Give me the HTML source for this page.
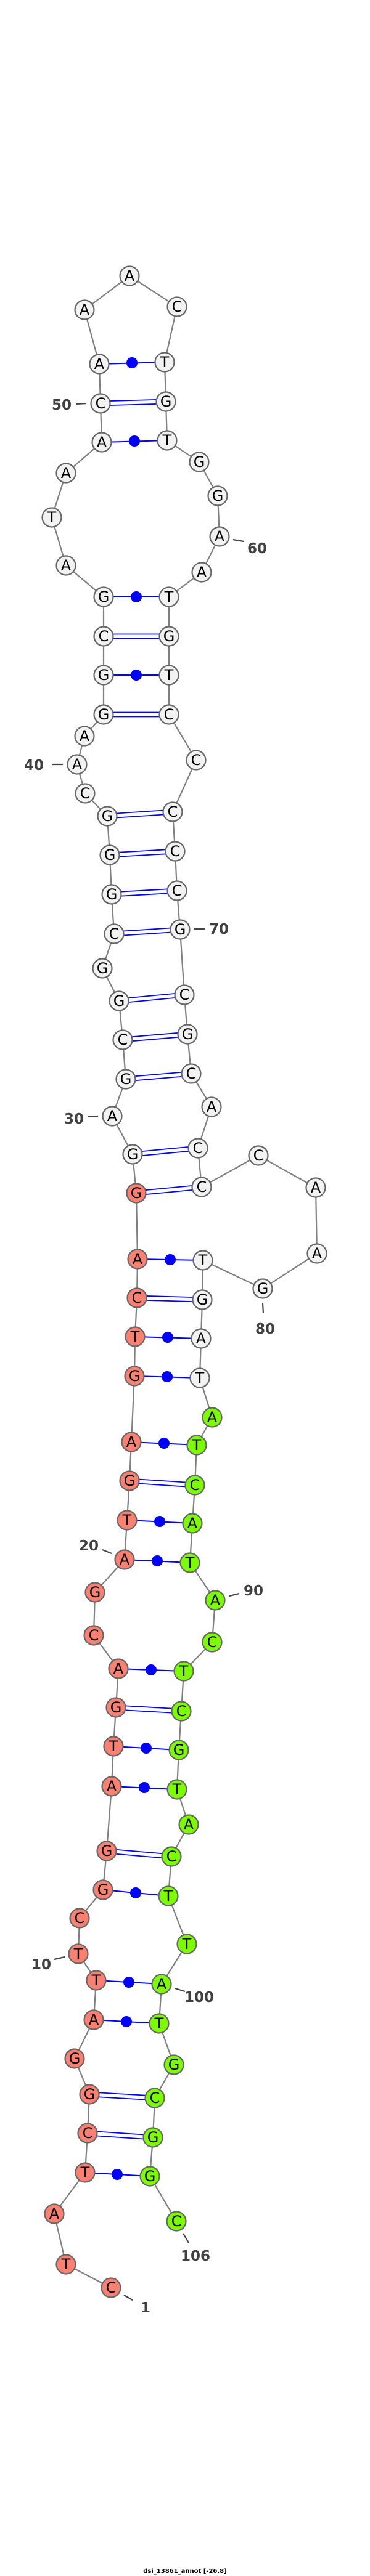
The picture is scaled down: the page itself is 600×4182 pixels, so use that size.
<!DOCTYPE html>
<html><head><meta charset="utf-8"><style>html,body{margin:0;padding:0;background:#fff}svg{display:block}</style></head>
<body>
<svg width="600" height="4182" viewBox="0 0 600 4182" xmlns="http://www.w3.org/2000/svg">
<rect width="600" height="4182" fill="#fff"/>
<polyline fill="none" stroke="#808080" stroke-width="2.2" points="180,3714 107,3676 88,3594 138,3527 142,3463 145,3400 121,3342 152,3279 156,3215 127,3172 129,3114 167,3068 173,3005 181,2900 184,2835 188,2772 192,2709 152,2655 154,2585 202,2532 206,2468 210,2404 213,2341 218,2234 219,2170 222,2107 223,2044 221,1937 215,1874 182,1812 204,1752 199,1688 193,1625 166,1572 185,1516 181,1452 178,1388 174,1325 138,1288 125,1241 137,1195 168,1160 168,1096 168,1033 168,969 107,918 84,840 107,768 165,718 163,655 161,591 137,503 210,448 287,498 267,588 269,652 271,715 323,750 353,805 356,871 327,929 274,969 274,1033 274,1096 274,1160 318,1234 280,1318 284,1382 287,1446 292,1509 299,1615 304,1679 310,1743 343,1797 321,1864 327,1927 419,1876 512,1928 514,2035 426,2092 329,2046 328,2110 326,2173 324,2237 344,2301 319,2346 316,2411 312,2473 308,2537 349,2598 344,2666 298,2713 294,2778 290,2841 287,2905 306,2962 278,3014 273,3078 303,3156 262,3221 258,3285 282,3352 251,3406 248,3470 243,3533 286,3606"/>
<g stroke="#0000ff" stroke-width="2">
<line x1="156" y1="3215" x2="262" y2="3221"/><line x1="152" y1="3279" x2="258" y2="3285"/><line x1="138" y1="3527" x2="243" y2="3533"/>
<line x1="192" y1="2709" x2="298" y2="2713"/><line x1="184" y1="2835" x2="290" y2="2841"/><line x1="181" y1="2900" x2="287" y2="2905"/><line x1="167" y1="3068" x2="273" y2="3078"/>
<line x1="223" y1="2044" x2="329" y2="2046"/><line x1="219" y1="2170" x2="326" y2="2173"/><line x1="218" y1="2234" x2="324" y2="2237"/><line x1="213" y1="2341" x2="319" y2="2346"/><line x1="206" y1="2468" x2="312" y2="2473"/><line x1="202" y1="2532" x2="308" y2="2537"/>
<line x1="168" y1="969" x2="274" y2="969"/><line x1="168" y1="1096" x2="274" y2="1096"/><line x1="161" y1="591" x2="267" y2="588"/><line x1="165" y1="718" x2="271" y2="715"/>
</g>
<g fill="#0000ff">
<circle cx="209" cy="3218" r="9"/><circle cx="205" cy="3282" r="9"/><circle cx="190" cy="3530" r="9"/>
<circle cx="245" cy="2711" r="9"/><circle cx="237" cy="2838" r="9"/><circle cx="234" cy="2902" r="9"/><circle cx="220" cy="3073" r="9"/>
<circle cx="276" cy="2045" r="9"/><circle cx="272" cy="2171" r="9"/><circle cx="271" cy="2235" r="9"/><circle cx="266" cy="2343" r="9"/><circle cx="259" cy="2470" r="9"/><circle cx="255" cy="2534" r="9"/>
<circle cx="221" cy="969" r="9"/><circle cx="221" cy="1096" r="9"/><circle cx="214" cy="589" r="9"/><circle cx="218" cy="716" r="9"/>
</g>
<g stroke="#0000ff" stroke-width="1.8">
<line x1="145" y1="3396.5" x2="251" y2="3402.5"/><line x1="145" y1="3403.5" x2="251" y2="3409.5"/>
<line x1="142" y1="3459.5" x2="248" y2="3466.5"/><line x1="142" y1="3466.5" x2="248" y2="3473.5"/>
<line x1="188" y1="2768.5" x2="294" y2="2774.5"/><line x1="188" y1="2775.5" x2="294" y2="2781.5"/>
<line x1="173" y1="3001.5" x2="278" y2="3010.5"/><line x1="173" y1="3008.5" x2="278" y2="3017.5"/>
<line x1="222" y1="2103.5" x2="328" y2="2106.5"/><line x1="222" y1="2110.5" x2="328" y2="2113.5"/>
<line x1="210" y1="2400.5" x2="316" y2="2407.5"/><line x1="210" y1="2407.5" x2="316" y2="2414.5"/>
<line x1="215" y1="1870.5" x2="321" y2="1860.5"/><line x1="215" y1="1877.5" x2="321" y2="1867.5"/>
<line x1="221" y1="1933.5" x2="327" y2="1923.5"/><line x1="221" y1="1940.5" x2="327" y2="1930.5"/>
<line x1="174" y1="1321.5" x2="280" y2="1314.5"/><line x1="174" y1="1328.5" x2="280" y2="1321.5"/>
<line x1="178" y1="1384.5" x2="284" y2="1378.5"/><line x1="178" y1="1391.5" x2="284" y2="1385.5"/>
<line x1="181" y1="1448.5" x2="287" y2="1442.5"/><line x1="181" y1="1455.5" x2="287" y2="1449.5"/>
<line x1="185" y1="1512.5" x2="292" y2="1505.5"/><line x1="185" y1="1519.5" x2="292" y2="1512.5"/>
<line x1="193" y1="1621.5" x2="299" y2="1611.5"/><line x1="193" y1="1628.5" x2="299" y2="1618.5"/>
<line x1="199" y1="1684.5" x2="304" y2="1675.5"/><line x1="199" y1="1691.5" x2="304" y2="1682.5"/>
<line x1="204" y1="1748.5" x2="310" y2="1739.5"/><line x1="204" y1="1755.5" x2="310" y2="1746.5"/>
<line x1="168" y1="1029.5" x2="274" y2="1029.5"/><line x1="168" y1="1036.5" x2="274" y2="1036.5"/>
<line x1="168" y1="1156.5" x2="274" y2="1156.5"/><line x1="168" y1="1163.5" x2="274" y2="1163.5"/>
<line x1="163" y1="651.5" x2="269" y2="648.5"/><line x1="163" y1="658.5" x2="269" y2="655.5"/>
</g>
<g stroke="#444" stroke-width="2.2">
<line x1="123" y1="656" x2="140" y2="655"/><line x1="378" y1="876" x2="395" y2="879"/><line x1="85" y1="1241" x2="102" y2="1241"/>
<line x1="314" y1="1508" x2="332" y2="1508"/><line x1="142" y1="1813" x2="159" y2="1812"/><line x1="426" y1="2116" x2="427" y2="2132"/>
<line x1="166" y1="2516" x2="181" y2="2522"/><line x1="372" y1="2591" x2="388" y2="2587"/><line x1="88" y1="3181" x2="105" y2="3177"/>
<line x1="284" y1="3228" x2="300" y2="3233"/><line x1="297" y1="3626" x2="306" y2="3641"/><line x1="201" y1="3726" x2="215" y2="3734"/>
</g>
<g font-family="DejaVu Sans, sans-serif" font-size="23" font-weight="bold" fill="#404040" text-anchor="middle">
<text x="100" y="665">50</text><text x="417" y="898">60</text><text x="55" y="1250">40</text><text x="355" y="1516">70</text>
<text x="120" y="1824">30</text><text x="430" y="2165">80</text><text x="144" y="2517">20</text><text x="411" y="2590">90</text>
<text x="67" y="3197">10</text><text x="323" y="3250">100</text><text x="317" y="3670">106</text><text x="236" y="3754">1</text>
</g>
<g stroke="#666" stroke-width="2.2">
<g fill="#fa8072">
<circle cx="180" cy="3714" r="15.5"/><circle cx="107" cy="3676" r="15.5"/><circle cx="88" cy="3594" r="15.5"/><circle cx="138" cy="3527" r="15.5"/><circle cx="142" cy="3463" r="15.5"/><circle cx="145" cy="3400" r="15.5"/><circle cx="121" cy="3342" r="15.5"/><circle cx="152" cy="3279" r="15.5"/><circle cx="156" cy="3215" r="15.5"/><circle cx="127" cy="3172" r="15.5"/><circle cx="129" cy="3114" r="15.5"/><circle cx="167" cy="3068" r="15.5"/><circle cx="173" cy="3005" r="15.5"/><circle cx="181" cy="2900" r="15.5"/><circle cx="184" cy="2835" r="15.5"/><circle cx="188" cy="2772" r="15.5"/><circle cx="192" cy="2709" r="15.5"/><circle cx="152" cy="2655" r="15.5"/><circle cx="154" cy="2585" r="15.5"/><circle cx="202" cy="2532" r="15.5"/><circle cx="206" cy="2468" r="15.5"/><circle cx="210" cy="2404" r="15.5"/><circle cx="213" cy="2341" r="15.5"/><circle cx="218" cy="2234" r="15.5"/><circle cx="219" cy="2170" r="15.5"/><circle cx="222" cy="2107" r="15.5"/><circle cx="223" cy="2044" r="15.5"/><circle cx="221" cy="1937" r="15.5"/>
</g>
<g fill="#f2f2f2">
<circle cx="215" cy="1874" r="15.5"/><circle cx="182" cy="1812" r="15.5"/><circle cx="204" cy="1752" r="15.5"/><circle cx="199" cy="1688" r="15.5"/><circle cx="193" cy="1625" r="15.5"/><circle cx="166" cy="1572" r="15.5"/><circle cx="185" cy="1516" r="15.5"/><circle cx="181" cy="1452" r="15.5"/><circle cx="178" cy="1388" r="15.5"/><circle cx="174" cy="1325" r="15.5"/><circle cx="138" cy="1288" r="15.5"/><circle cx="125" cy="1241" r="15.5"/><circle cx="137" cy="1195" r="15.5"/><circle cx="168" cy="1160" r="15.5"/><circle cx="168" cy="1096" r="15.5"/><circle cx="168" cy="1033" r="15.5"/><circle cx="168" cy="969" r="15.5"/><circle cx="107" cy="918" r="15.5"/><circle cx="84" cy="840" r="15.5"/><circle cx="107" cy="768" r="15.5"/><circle cx="165" cy="718" r="15.5"/><circle cx="163" cy="655" r="15.5"/><circle cx="161" cy="591" r="15.5"/><circle cx="137" cy="503" r="15.5"/><circle cx="210" cy="448" r="15.5"/><circle cx="287" cy="498" r="15.5"/><circle cx="267" cy="588" r="15.5"/><circle cx="269" cy="652" r="15.5"/><circle cx="271" cy="715" r="15.5"/><circle cx="323" cy="750" r="15.5"/><circle cx="353" cy="805" r="15.5"/><circle cx="356" cy="871" r="15.5"/><circle cx="327" cy="929" r="15.5"/><circle cx="274" cy="969" r="15.5"/><circle cx="274" cy="1033" r="15.5"/><circle cx="274" cy="1096" r="15.5"/><circle cx="274" cy="1160" r="15.5"/><circle cx="318" cy="1234" r="15.5"/><circle cx="280" cy="1318" r="15.5"/><circle cx="284" cy="1382" r="15.5"/><circle cx="287" cy="1446" r="15.5"/><circle cx="292" cy="1509" r="15.5"/><circle cx="299" cy="1615" r="15.5"/><circle cx="304" cy="1679" r="15.5"/><circle cx="310" cy="1743" r="15.5"/><circle cx="343" cy="1797" r="15.5"/><circle cx="321" cy="1864" r="15.5"/><circle cx="327" cy="1927" r="15.5"/><circle cx="419" cy="1876" r="15.5"/><circle cx="512" cy="1928" r="15.5"/><circle cx="514" cy="2035" r="15.5"/><circle cx="426" cy="2092" r="15.5"/><circle cx="329" cy="2046" r="15.5"/><circle cx="328" cy="2110" r="15.5"/><circle cx="326" cy="2173" r="15.5"/><circle cx="324" cy="2237" r="15.5"/>
</g>
<g fill="#7cfc00">
<circle cx="344" cy="2301" r="15.5"/><circle cx="319" cy="2346" r="15.5"/><circle cx="316" cy="2411" r="15.5"/><circle cx="312" cy="2473" r="15.5"/><circle cx="308" cy="2537" r="15.5"/><circle cx="349" cy="2598" r="15.5"/><circle cx="344" cy="2666" r="15.5"/><circle cx="298" cy="2713" r="15.5"/><circle cx="294" cy="2778" r="15.5"/><circle cx="290" cy="2841" r="15.5"/><circle cx="287" cy="2905" r="15.5"/><circle cx="306" cy="2962" r="15.5"/><circle cx="278" cy="3014" r="15.5"/><circle cx="273" cy="3078" r="15.5"/><circle cx="303" cy="3156" r="15.5"/><circle cx="262" cy="3221" r="15.5"/><circle cx="258" cy="3285" r="15.5"/><circle cx="282" cy="3352" r="15.5"/><circle cx="251" cy="3406" r="15.5"/><circle cx="248" cy="3470" r="15.5"/><circle cx="243" cy="3533" r="15.5"/><circle cx="286" cy="3606" r="15.5"/>
</g>
</g>
<g font-family="DejaVu Sans, sans-serif" font-size="24" fill="#000" text-anchor="middle">
<text x="180" y="3722">C</text><text x="107" y="3684">T</text><text x="88" y="3602">A</text><text x="138" y="3535">T</text><text x="142" y="3471">C</text><text x="145" y="3408">G</text><text x="121" y="3350">G</text><text x="152" y="3287">A</text><text x="156" y="3223">T</text><text x="127" y="3180">T</text><text x="129" y="3122">C</text><text x="167" y="3076">G</text><text x="173" y="3013">G</text><text x="181" y="2908">A</text><text x="184" y="2843">T</text><text x="188" y="2780">G</text><text x="192" y="2717">A</text><text x="152" y="2663">C</text><text x="154" y="2593">G</text><text x="202" y="2540">A</text><text x="206" y="2476">T</text><text x="210" y="2412">G</text><text x="213" y="2349">A</text><text x="218" y="2242">G</text><text x="219" y="2178">T</text><text x="222" y="2115">C</text><text x="223" y="2052">A</text><text x="221" y="1945">G</text>
<text x="215" y="1882">G</text><text x="182" y="1820">A</text><text x="204" y="1760">G</text><text x="199" y="1696">C</text><text x="193" y="1633">G</text><text x="166" y="1580">G</text><text x="185" y="1524">C</text><text x="181" y="1460">G</text><text x="178" y="1396">G</text><text x="174" y="1333">G</text><text x="138" y="1296">C</text><text x="125" y="1249">A</text><text x="137" y="1203">A</text><text x="168" y="1168">G</text><text x="168" y="1104">G</text><text x="168" y="1041">C</text><text x="168" y="977">G</text><text x="107" y="926">A</text><text x="84" y="848">T</text><text x="107" y="776">A</text><text x="165" y="726">A</text><text x="163" y="663">C</text><text x="161" y="599">A</text><text x="137" y="511">A</text><text x="210" y="456">A</text><text x="287" y="506">C</text><text x="267" y="596">T</text><text x="269" y="660">G</text><text x="271" y="723">T</text><text x="323" y="758">G</text><text x="353" y="813">G</text><text x="356" y="879">A</text><text x="327" y="937">A</text><text x="274" y="977">T</text><text x="274" y="1041">G</text><text x="274" y="1104">T</text><text x="274" y="1168">C</text><text x="318" y="1242">C</text><text x="280" y="1326">C</text><text x="284" y="1390">C</text><text x="287" y="1454">C</text><text x="292" y="1517">G</text><text x="299" y="1623">C</text><text x="304" y="1687">G</text><text x="310" y="1751">C</text><text x="343" y="1805">A</text><text x="321" y="1872">C</text><text x="327" y="1935">C</text><text x="419" y="1884">C</text><text x="512" y="1936">A</text><text x="514" y="2043">A</text><text x="426" y="2100">G</text><text x="329" y="2054">T</text><text x="328" y="2118">G</text><text x="326" y="2181">A</text><text x="324" y="2245">T</text>
<text x="344" y="2309">A</text><text x="319" y="2354">T</text><text x="316" y="2419">C</text><text x="312" y="2481">A</text><text x="308" y="2545">T</text><text x="349" y="2606">A</text><text x="344" y="2674">C</text><text x="298" y="2721">T</text><text x="294" y="2786">C</text><text x="290" y="2849">G</text><text x="287" y="2913">T</text><text x="306" y="2970">A</text><text x="278" y="3022">C</text><text x="273" y="3086">T</text><text x="303" y="3164">T</text><text x="262" y="3229">A</text><text x="258" y="3293">T</text><text x="282" y="3360">G</text><text x="251" y="3414">C</text><text x="248" y="3478">G</text><text x="243" y="3541">G</text><text x="286" y="3614">C</text>
</g>
<text x="300" y="4177" font-family="DejaVu Sans, sans-serif" font-size="10" font-weight="bold" fill="#000" text-anchor="middle">dsi_13861_annot [-26.8]</text>
</svg>
</body></html>
